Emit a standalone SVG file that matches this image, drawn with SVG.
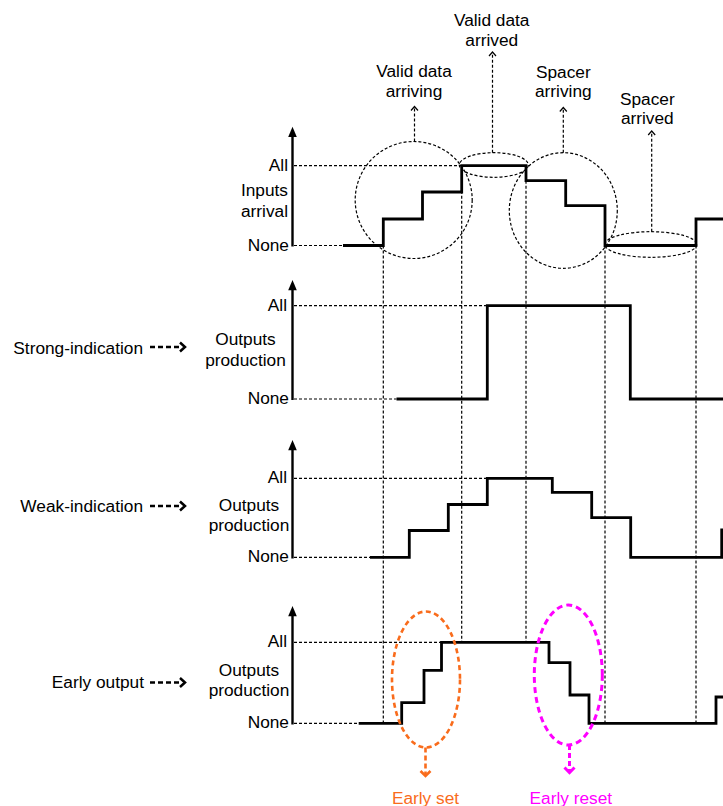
<svg xmlns="http://www.w3.org/2000/svg" width="723" height="806" viewBox="0 0 723 806">
<style>
.t{font-family:"Liberation Sans",Arial,sans-serif;font-size:17.3px;fill:#000}
.m{text-anchor:middle}
.e{text-anchor:end}
.dot{stroke:#000;stroke-width:1.2;stroke-dasharray:3 2;fill:none}
.sig{stroke:#000;stroke-width:2.8;fill:none;stroke-linejoin:miter}
.axis{stroke:#000;stroke-width:2.4}
.chev{stroke:#000;stroke-width:1.2;fill:none}
.lab{stroke:#000;stroke-width:2.5;fill:none}
.labd{stroke-dasharray:5 3}
.org{stroke:#F96C1C;stroke-width:2.6;fill:none}
.mag{stroke:#FF00FF;stroke-width:3;fill:none}
</style>
<rect width="723" height="806" fill="#fff"/>

<g id="panel-inputs">
<line class="axis" x1="292.5" y1="246.5" x2="292.5" y2="134"/>
<polygon points="292.5,126.7 288.2,137 296.8,137"/>
<text class="t e" x="288" y="170.7">All</text>
<text class="t e" x="288" y="196">Inputs</text>
<text class="t e" x="288" y="216.7">arrival</text>
<text class="t e" x="289" y="250.5">None</text>
<line class="dot" x1="294" y1="165.7" x2="461.7" y2="165.7"/>
<line class="dot" x1="294" y1="245.5" x2="343" y2="245.5"/>
<path class="sig" d="M343,245.5 H383.3 V219 H422.5 V192 H461.7 V165.7 H526 V180.7 H565.7 V205.7 H605 V245.5 H696 V219 H723"/>
</g>

<g id="panel-strong">
<line class="axis" x1="292.5" y1="400" x2="292.5" y2="287"/>
<polygon points="292.5,280 288.2,290.3 296.8,290.3"/>
<text class="t e" x="287" y="310.5">All</text>
<text class="t m" x="245.5" y="345">Outputs</text>
<text class="t m" x="245.5" y="365.5">production</text>
<text class="t e" x="289" y="403.5">None</text>
<line class="dot" x1="294" y1="305.7" x2="487.3" y2="305.7"/>
<line class="dot" x1="294" y1="399" x2="396.5" y2="399"/>
<path class="sig" d="M396.5,399 H487.3 V305.7 H630.3 V399 H723"/>
</g>

<g id="panel-weak">
<line class="axis" x1="292.5" y1="558.5" x2="292.5" y2="447"/>
<polygon points="292.5,440 288.2,450.3 296.8,450.3"/>
<text class="t e" x="287" y="483.3">All</text>
<text class="t m" x="249" y="510.5">Outputs</text>
<text class="t m" x="249" y="531">production</text>
<text class="t e" x="289" y="562">None</text>
<line class="dot" x1="294" y1="478.3" x2="487.3" y2="478.3"/>
<line class="dot" x1="294" y1="557.3" x2="370" y2="557.3"/>
<path class="sig" d="M370,557.3 H409.3 V530.5 H448.3 V504.5 H487.3 V478.3 H552.3 V492.3 H591.7 V517.7 H630.7 V557.3 H721.7 V530 H723"/>
</g>

<g id="panel-early">
<line class="axis" x1="292.5" y1="724.5" x2="292.5" y2="613"/>
<polygon points="292.5,606 288.2,616.3 296.8,616.3"/>
<text class="t e" x="287" y="647.3">All</text>
<text class="t m" x="249" y="675.5">Outputs</text>
<text class="t m" x="249" y="696">production</text>
<text class="t e" x="289" y="728">None</text>
<line class="dot" x1="294" y1="642.3" x2="441.5" y2="642.3"/>
<line class="dot" x1="294" y1="723.3" x2="358.7" y2="723.3"/>
<path class="sig" d="M358.7,723.3 H401.7 V702.7 H424 V670.3 H441.5 V642.3 H549 V662.7 H570 V695 H589 V723.3 H716 V697 H723"/>
</g>

<g id="label-strong">
<text class="t e" x="143" y="353.5">Strong-indication</text>
<line class="lab labd" x1="150" y1="347" x2="181" y2="347"/>
<path class="lab" d="M180,342.5 L185,347 L180,351.5"/>
</g>
<g id="label-weak">
<text class="t e" x="143" y="512">Weak-indication</text>
<line class="lab labd" x1="150" y1="506" x2="181" y2="506"/>
<path class="lab" d="M180,501.5 L185,506 L180,510.5"/>
</g>
<g id="label-early">
<text class="t e" x="144" y="687.5">Early output</text>
<line class="lab labd" x1="150" y1="682.5" x2="181" y2="682.5"/>
<path class="lab" d="M180,678 L185,682.5 L180,687"/>
</g>

<g id="note-valid-arriving">
<circle class="dot" cx="413.7" cy="200" r="58.5"/>
<text class="t m" x="414" y="77.3">Valid data</text>
<text class="t m" x="414" y="96.5">arriving</text>
</g>
<g id="note-valid-arrived">
<ellipse class="dot" cx="493.8" cy="165" rx="34.5" ry="12.3"/>
<text class="t m" x="491.7" y="26">Valid data</text>
<text class="t m" x="491.7" y="45.5">arrived</text>
</g>
<g id="note-spacer-arriving">
<ellipse class="dot" cx="563.3" cy="210.5" rx="54" ry="57.8"/>
<text class="t m" x="563.3" y="77.5">Spacer</text>
<text class="t m" x="563.3" y="96.5">arriving</text>
</g>
<g id="note-spacer-arrived">
<ellipse class="dot" cx="650.8" cy="244.5" rx="46" ry="12.8"/>
<text class="t m" x="647.3" y="104.5">Spacer</text>
<text class="t m" x="647.3" y="124">arrived</text>
</g>
<g id="note-early-set">
<ellipse class="org" cx="426" cy="679.5" rx="34" ry="68" stroke-dasharray="5 3.5"/>
<text class="t m" x="425.5" y="803.5" fill="#F96C1C" style="fill:#F96C1C">Early set</text>
</g>
<g id="note-early-reset">
<ellipse class="mag" cx="568.3" cy="675" rx="34" ry="70" stroke-dasharray="6 4"/>
<text class="t m" x="570.8" y="803.5" style="fill:#FF00FF">Early reset</text>
</g>

<g id="connectors">
<line class="dot" x1="383.3" y1="245.5" x2="383.3" y2="723.3"/>
<line class="dot" x1="461.7" y1="165.7" x2="461.7" y2="642.3"/>
<line class="dot" x1="526" y1="165.7" x2="526" y2="642.3"/>
<line class="dot" x1="605" y1="245.5" x2="605" y2="723.3"/>
<line class="dot" x1="696" y1="245.5" x2="696" y2="723.3"/>
<line class="dot" x1="414.5" y1="141.5" x2="414.5" y2="107"/>
<path class="chev" d="M411,110.5 L414.5,106.5 L418,110.5"/>
<line class="dot" x1="492.5" y1="152.7" x2="492.5" y2="52.5"/>
<path class="chev" d="M489,56 L492.5,52 L496,56"/>
<line class="dot" x1="563.3" y1="152.7" x2="563.3" y2="108"/>
<path class="chev" d="M559.8,111.5 L563.3,107.5 L566.8,111.5"/>
<line class="dot" x1="651.7" y1="231.7" x2="651.7" y2="131.5"/>
<path class="chev" d="M648.2,135 L651.7,131 L655.2,135"/>
<line class="org" x1="425.5" y1="747.5" x2="425.5" y2="774" stroke-dasharray="5 3"/>
<path class="org" d="M420.5,771 L425.5,776 L430.5,771"/>
<line class="mag" x1="569.5" y1="745" x2="569.5" y2="771" stroke-dasharray="5 3"/>
<path class="mag" d="M564.5,767.5 L569.5,772.7 L574.5,767.5"/>
</g>
</svg>
